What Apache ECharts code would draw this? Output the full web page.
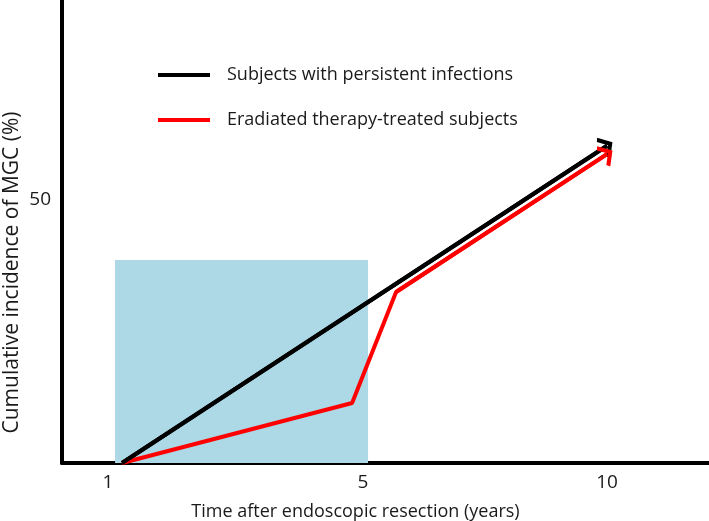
<!DOCTYPE html>
<html>
<head>
<meta charset="utf-8">
<script src="https://cdn.jsdelivr.net/npm/echarts@6/dist/echarts.min.js"></script>
<style>html,body{margin:0;padding:0;background:#fff}#c{width:709px;height:521px}</style>
</head>
<body>
<div id="c"></div>
<script>
// ---- data ----
const seriesNames = ['Subjects with persistent infections', 'Eradiated therapy-treated subjects'];
const persistentX = [1.22, 8.83];
const persistentY = [0, 60.3];
const eradicatedX = [1.22, 4.83, 5.52, 8.83];
const eradicatedY = [0, 11.4, 32.5, 58.7];
const xTickAt = [1, 5, 8.83];
const xTickText = ['1', '5', '10'];
const yTickAt = [50];
const yTickText = ['50'];
const windowX = [1.11, 5.08];
const windowY = [0, 38.6];
const xTitle = 'Time after endoscopic resection (years)';
const yTitle = 'Cumulative incidence of MGC (%)';

const FONT = 'Open Sans';
const TXT = '#1a1a1a';
const chevron = 'path://M50,0 L100,58 L86,72 L50,30 L14,72 L0,58 Z';

function pairs(xs, ys) { return xs.map((x, i) => [x, ys[i]]); }
function arrowLine(xs, ys) {
  const n = xs.length;
  return [[{ coord: [xs[n - 2], ys[n - 2]] }, { coord: [xs[n - 1], ys[n - 1]] }]];
}

const chart = echarts.init(document.getElementById('c'), null, { renderer: 'canvas' });
chart.setOption({
  animation: false,
  textStyle: { fontFamily: FONT },
  grid: { left: 62, right: 0, top: 0, bottom: 58, containLabel: false, outerBoundsMode: 'none' },
  legend: {
    orient: 'vertical', left: 153, top: 59, itemGap: 23,
    itemWidth: 52, itemHeight: 4, icon: 'rect',
    textStyle: { fontFamily: FONT, fontSize: 18, color: TXT, lineHeight: 22, padding: [0, 0, 0, 12] },
    data: seriesNames
  },
  xAxis: {
    type: 'value', min: 0.278, max: 10.43,
    name: xTitle, nameLocation: 'middle', nameGap: 40,
    nameTextStyle: { fontFamily: FONT, fontSize: 18, color: TXT, padding: [0, 60, 0, 0] },
    axisLine: { onZero: false, lineStyle: { color: '#000', width: 4 } },
    axisTick: { show: false },
    splitLine: { show: false },
    axisLabel: {
      customValues: xTickAt, margin: 10, fontFamily: FONT, fontSize: 19, color: TXT,
      formatter: v => { const i = xTickAt.findIndex(t => Math.abs(t - v) < 1e-6); return i >= 0 ? xTickText[i] : ''; }
    }
  },
  yAxis: {
    type: 'value', min: 0, max: 88,
    name: yTitle, nameLocation: 'middle', nameGap: 39, nameRotate: 90, nameMoveOverlap: false,
    nameTextStyle: { fontFamily: FONT, fontSize: 21, color: TXT, padding: [0, 82, 0, 0] },
    axisLine: { show: true, onZero: false, lineStyle: { color: '#000', width: 4 } },
    axisTick: { show: false },
    splitLine: { show: false },
    axisLabel: {
      customValues: yTickAt, margin: 11, fontFamily: FONT, fontSize: 19, color: TXT,
      formatter: v => { const i = yTickAt.findIndex(t => Math.abs(t - v) < 1e-6); return i >= 0 ? yTickText[i] : ''; }
    }
  },
  series: [
    {
      name: seriesNames[0], type: 'line', data: pairs(persistentX, persistentY),
      showSymbol: false, symbol: 'none', z: 3,
      itemStyle: { color: '#000' },
      lineStyle: { color: '#000', width: 4 },
      markArea: {
        silent: true, z: 1,
        itemStyle: { color: '#ADD8E6' },
        data: [[{ coord: [windowX[0], windowY[0]] }, { coord: [windowX[1], windowY[1]] }]]
      },
      markLine: {
        silent: true, symbol: ['none', chevron], symbolSize: [24, 13],
        label: { show: false }, lineStyle: { color: '#000', width: 4, type: 'solid' },
        data: arrowLine(persistentX, persistentY)
      }
    },
    {
      name: seriesNames[1], type: 'line', data: pairs(eradicatedX, eradicatedY),
      showSymbol: false, symbol: 'none', z: 4,
      itemStyle: { color: '#ff0000' },
      lineStyle: { color: '#ff0000', width: 4 },
      markLine: {
        silent: true, symbol: ['none', chevron], symbolSize: [24, 13],
        label: { show: false }, lineStyle: { color: '#ff0000', width: 4, type: 'solid' },
        data: arrowLine(eradicatedX, eradicatedY)
      }
    }
  ]
});
</script>
</body>
</html>
